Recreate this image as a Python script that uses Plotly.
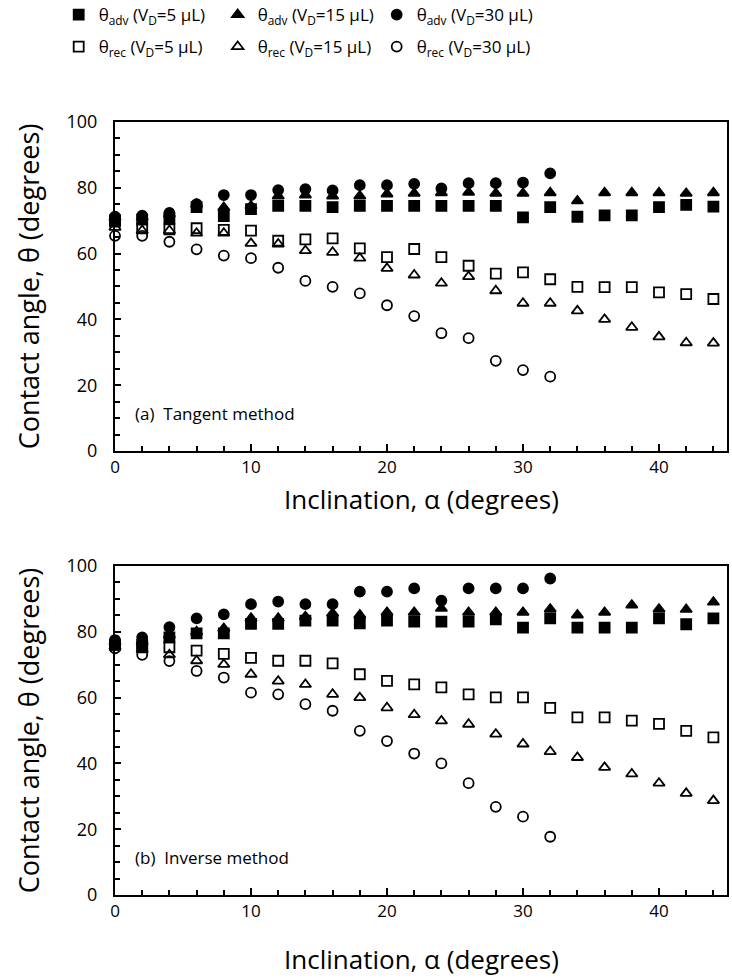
import plotly.graph_objects as go

alpha = [0, 2, 4, 6, 8, 10, 12, 14, 16, 18, 20, 22, 24, 26, 28, 30, 32, 34, 36, 38, 40, 42, 44]
alpha30 = alpha[:17]

# (a) Tangent method
a_adv5 = [70.2, 70.3, 70.6, 74.1, 71.4, 73.5, 74.5, 74.5, 74.1, 74.5, 74.5, 74.5, 74.5, 74.5, 74.5, 71.0, 74.1, 71.2, 71.6, 71.6, 74.1, 74.8, 74.3]
a_adv15 = [71.0, 71.0, 72.0, 75.0, 74.0, 74.5, 77.5, 77.8, 77.5, 77.5, 78.1, 78.3, 78.5, 78.6, 78.3, 78.3, 78.5, 76.0, 78.5, 78.5, 78.5, 78.3, 78.5]
a_adv30 = [71.2, 71.5, 72.4, 75.0, 77.8, 77.8, 79.3, 79.6, 79.2, 80.8, 80.8, 81.2, 79.8, 81.4, 81.4, 81.6, 84.4]
a_rec5 = [69.7, 67.7, 67.4, 67.7, 67.2, 67.0, 63.9, 64.3, 64.6, 61.6, 58.9, 61.4, 58.9, 56.3, 53.9, 54.3, 52.2, 49.9, 49.8, 49.8, 48.2, 47.7, 46.2]
a_rec15 = [68.0, 67.0, 67.0, 66.2, 66.2, 63.1, 62.9, 60.9, 60.4, 58.6, 55.5, 53.5, 51.0, 53.0, 48.7, 44.9, 44.9, 42.6, 40.0, 37.6, 34.7, 32.9, 32.8]
a_rec30 = [65.4, 65.4, 63.6, 61.3, 59.4, 58.6, 55.7, 51.7, 49.9, 47.9, 44.3, 41.0, 35.8, 34.3, 27.4, 24.6, 22.6]

# (b) Inverse method
b_adv5 = [76.0, 76.0, 78.3, 79.5, 79.5, 82.4, 82.4, 83.4, 83.4, 82.6, 83.4, 83.1, 83.1, 83.1, 83.8, 81.3, 84.1, 81.3, 81.3, 81.3, 84.1, 82.3, 84.1]
b_adv15 = [77.0, 77.0, 79.0, 80.0, 81.0, 84.1, 84.1, 84.6, 85.6, 85.1, 85.9, 85.9, 87.1, 85.9, 85.9, 85.9, 86.9, 85.1, 85.9, 88.1, 86.9, 86.8, 89.0]
b_adv30 = [77.5, 78.3, 81.4, 84.1, 85.3, 88.4, 89.2, 88.4, 88.4, 92.2, 92.2, 93.2, 89.5, 93.2, 93.2, 93.2, 96.2]
b_rec5 = [76.0, 75.5, 75.3, 74.3, 73.3, 72.1, 71.2, 71.2, 70.4, 67.1, 65.1, 64.0, 63.1, 61.0, 60.1, 60.1, 56.9, 54.0, 54.0, 53.0, 52.0, 49.9, 47.9]
b_rec15 = [75.5, 74.5, 73.0, 71.2, 70.1, 67.1, 65.0, 64.0, 61.0, 60.0, 56.9, 54.8, 52.9, 51.9, 48.9, 45.9, 43.6, 41.8, 38.8, 36.8, 34.0, 30.9, 28.7]
b_rec30 = [75.0, 73.0, 71.1, 68.1, 66.1, 61.5, 61.0, 58.0, 56.0, 49.9, 46.8, 43.0, 40.0, 34.0, 26.8, 23.8, 17.7]

names = [
    "θ<sub>adv</sub> (V<sub>D</sub>=5 µL)",
    "θ<sub>adv</sub> (V<sub>D</sub>=15 µL)",
    "θ<sub>adv</sub> (V<sub>D</sub>=30 µL)",
    "θ<sub>rec</sub> (V<sub>D</sub>=5 µL)",
    "θ<sub>rec</sub> (V<sub>D</sub>=15 µL)",
    "θ<sub>rec</sub> (V<sub>D</sub>=30 µL)",
]
symbols = ["square", "triangle-up", "circle", "square-open", "triangle-up-open", "circle-open"]
sizes = [10, 10, 10, 10, 10, 10]
legends = ["legend", "legend", "legend", "legend2", "legend2", "legend2"]

panel_a = [(alpha, a_adv5), (alpha, a_adv15), (alpha30, a_adv30), (alpha, a_rec5), (alpha, a_rec15), (alpha30, a_rec30)]
panel_b = [(alpha, b_adv5), (alpha, b_adv15), (alpha30, b_adv30), (alpha, b_rec5), (alpha, b_rec15), (alpha30, b_rec30)]

fig = go.Figure()
for i, (xs, ys) in enumerate(panel_a):
    fig.add_trace(go.Scatter(
        x=xs, y=ys, mode="markers", name=names[i], xaxis="x", yaxis="y",
        marker=dict(symbol=symbols[i], size=sizes[i], color="black", line=dict(width=1.8, color="black")),
        cliponaxis=False, legend=legends[i], showlegend=True))
for i, (xs, ys) in enumerate(panel_b):
    fig.add_trace(go.Scatter(
        x=xs, y=ys, mode="markers", name=names[i], xaxis="x2", yaxis="y2",
        marker=dict(symbol=symbols[i], size=sizes[i], color="black", line=dict(width=1.8, color="black")),
        cliponaxis=False, showlegend=False))

FONT = "Open Sans"
tickfont = dict(family=FONT, size=18, color="black")
xtickfont = dict(family=FONT, size=17, color="black")
titlefont = dict(family=FONT, size=27, color="black")
xtitlefont = dict(family=FONT, size=26, color="black")

def xax(anchor):
    return dict(anchor=anchor, domain=[0, 1], range=[0, 45], showline=True, linecolor="black", linewidth=2,
                mirror=True, ticks="inside", ticklen=7, tickwidth=1.5, tickcolor="black", dtick=10, tick0=0,
                minor=dict(dtick=2, ticks="inside", ticklen=5, tickwidth=1.5, tickcolor="black"),
                showgrid=False, zeroline=False, tickfont=xtickfont)

def yax(anchor, domain):
    return dict(anchor=anchor, domain=domain, range=[0, 100], showline=True, linecolor="black", linewidth=2,
                mirror=True, ticks="inside", ticklen=6, tickwidth=1.5, tickcolor="black", dtick=20, tick0=0,
                minor=dict(dtick=5, ticks="inside", ticklen=5, tickwidth=1.5, tickcolor="black"),
                showgrid=False, zeroline=False, tickfont=tickfont, ticklabelstandoff=12,
                title=dict(text="Contact angle, θ (degrees)", font=titlefont, standoff=19))

legfont = dict(family="Open Sans", size=17, color="black")
leg_common = dict(orientation="h", xref="paper", yref="paper", x=-0.092, xanchor="left", yanchor="middle",
                  entrywidth=114, font=legfont, bgcolor="rgba(0,0,0,0)", tracegroupgap=0, itemwidth=30,
                  borderwidth=0)
xtitle = "Inclination, α (degrees)"
fig.update_layout(
    width=732, height=978,
    margin=dict(l=115, r=5, t=122, b=83, autoexpand=False),
    paper_bgcolor="white", plot_bgcolor="white",
    xaxis=xax("y"), yaxis=yax("x", [0.5744, 1]),
    xaxis2=xax("y2"), yaxis2=yax("x2", [0, 0.4256]),
    legend=dict(leg_common, y=1.1384),
    legend2=dict(leg_common, y=1.097),
    annotations=[
        dict(text=xtitle, xref="x domain", yref="paper", x=0.5, y=0.5123, xanchor="center", yanchor="middle",
             showarrow=False, font=xtitlefont),
        dict(text=xtitle, xref="x2 domain", yref="paper", x=0.5, y=-0.083, xanchor="center", yanchor="middle",
             showarrow=False, font=xtitlefont),
        dict(text="(a)  Tangent method", xref="x", yref="y", x=1.3, y=11.5, xanchor="left", yanchor="middle",
             showarrow=False, font=dict(family=FONT, size=17, color="black")),
        dict(text="(b)  Inverse method", xref="x2", yref="y2", x=1.3, y=11.5, xanchor="left", yanchor="middle",
             showarrow=False, font=dict(family=FONT, size=17, color="black")),
    ],
)

fig.write_html("out.html")
